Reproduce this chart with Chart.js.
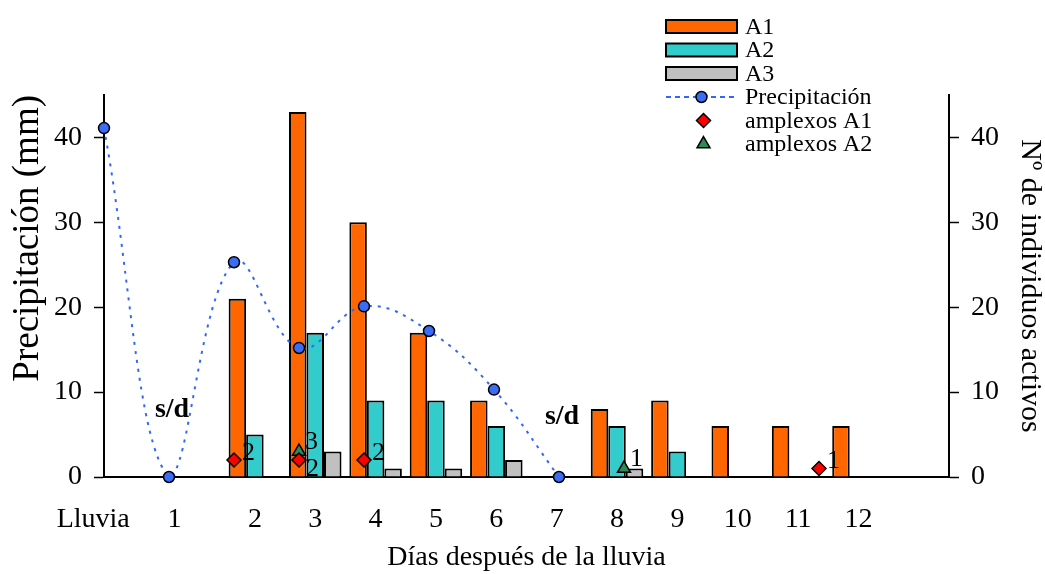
<!DOCTYPE html>
<html>
<head>
<meta charset="utf-8">
<script src="https://cdn.jsdelivr.net/npm/chart.js@4.4.1/dist/chart.umd.min.js"></script>
<style>
  html,body{margin:0;padding:0;background:#fff;}
  #wrap{width:1045px;height:574px;}
</style>
</head>
<body>
<div id="wrap"><canvas id="chart" width="1045" height="574"></canvas></div>
<script>
// ===== data =====
const dayLabels = ['Lluvia','1','2','3','4','5','6','7','8','9','10','11','12',''];
const a1Counts  = [null,null,21,43,30,17,9,null,8,9,6,6,6,null];
const a2Counts  = [null,null,5,17,9,9,6,null,6,3,null,null,null,null];
const a3Counts  = [null,null,null,3,1,1,2,null,1,null,null,null,null,null];

const rainDays = [0,1,2,3,4,5,6,7];
const rainMm   = [41.1,0,25.3,15.2,20.1,17.2,10.3,0];

const amplexA1Days = [2,3,4,11];
const amplexA1     = [2,2,2,1];
const amplexA2Days = [3,8];
const amplexA2     = [3,1];

const noDataDays = [1,7];
const noDataY    = [7.9,7.1];

const SERIF = "'Liberation Serif','Times New Roman',serif";
const pts = (xs, ys) => xs.map((x,i)=>({x:x, y:ys[i]}));

// ===== plugins =====
const dayRow = {
  id:'dayRow',
  afterDraw(chart){
    const ctx = chart.ctx, sc = chart.scales.xb;
    const nudge = [-41,-20];           // "Lluvia" and "1" sit left of their slots
    ctx.save();
    ctx.font = '28px ' + SERIF;
    ctx.fillStyle = '#000';
    ctx.textAlign = 'center';
    ctx.textBaseline = 'alphabetic';
    dayLabels.forEach((t,i)=>{
      if(!t) return;
      ctx.fillText(t, sc.getPixelForValue(i) + (nudge[i]||0), 527);
    });
    ctx.restore();
  }
};

const notes = {
  id:'notes',
  afterDatasetsDraw(chart){
    const ctx = chart.ctx, x = chart.scales.x, y = chart.scales.y;
    ctx.save();
    ctx.fillStyle = '#000';
    // s/d
    ctx.font = 'bold 28px ' + SERIF;
    ctx.textAlign = 'center'; ctx.textBaseline = 'middle';
    noDataDays.forEach((d,i)=> ctx.fillText('s/d', x.getPixelForValue(d)+3, y.getPixelForValue(noDataY[i])));
    // amplexos counts
    ctx.font = '26px ' + SERIF;
    ctx.textAlign = 'left';
    const m1 = chart.getDatasetMeta(0).data, m2 = chart.getDatasetMeta(1).data;
    m2.forEach((p,i)=> ctx.fillText(String(amplexA2[i]), p.x+6, p.y-9));
    m1.forEach((p,i)=>{
      const shared = amplexA2Days.includes(amplexA1Days[i]);
      ctx.fillText(String(amplexA1[i]), p.x+(shared?7:8), p.y+(shared?9:-7));
    });
    ctx.restore();
  }
};

const legendBox = {
  id:'legendBox',
  afterDraw(chart){
    const ctx = chart.ctx;
    const ds = chart.data.datasets;
    const order = [3,4,5,2,0,1];
    const x0 = 666, x1 = 737, tx = 745;
    ctx.save();
    ctx.font = '24px ' + SERIF;
    ctx.textBaseline = 'middle';
    order.forEach((k,row)=>{
      const d = ds[k], yy = 26.5 + row*23.5, cx = (x0+x1)/2;
      if(d.type === 'bar'){
        ctx.fillStyle = d.backgroundColor; ctx.strokeStyle = '#000'; ctx.lineWidth = 2;
        ctx.fillRect(x0, yy-6.5, x1-x0, 13); ctx.strokeRect(x0, yy-6.5, x1-x0, 13);
      } else if(d.type === 'line'){
        ctx.strokeStyle = d.borderColor; ctx.lineWidth = 2; ctx.setLineDash([5,4]);
        ctx.beginPath(); ctx.moveTo(x0, yy); ctx.lineTo(x1, yy); ctx.stroke(); ctx.setLineDash([]);
        ctx.fillStyle = d.pointBackgroundColor; ctx.strokeStyle = '#000'; ctx.lineWidth = 1.5;
        ctx.beginPath(); ctx.arc(cx, yy, d.pointRadius, 0, Math.PI*2); ctx.fill(); ctx.stroke();
      } else {
        ctx.fillStyle = d.backgroundColor; ctx.strokeStyle = '#000'; ctx.lineWidth = 1.5;
        Chart.helpers.drawPoint(ctx, {pointStyle:d.pointStyle, radius:d.pointRadius, borderWidth:1.5, rotation:0}, cx+2, yy);
      }
      ctx.fillStyle = '#000'; ctx.textAlign = 'left';
      ctx.fillText(d.label, tx, yy+1);
    });
    ctx.restore();
  }
};

// ===== chart =====
const axisY = (pos, title, titleFont, titleAlign, titlePad) => ({
  type:'linear', position:pos, min:0, max:45,
  ticks:{ stepSize:10, includeBounds:false, color:'#000', padding:12, font:{family:SERIF, size:28} },
  grid:{ drawOnChartArea:false, tickLength:10, tickColor:'#000', tickWidth:1.5 },
  border:{ color:'#000', width:2 },
  title:{ display:true, text:title, color:'#000', align:titleAlign, padding:titlePad, font:{family:SERIF, size:titleFont, lineHeight:1} },
  afterFit: s => { s.width = pos === 'left' ? 104 : 96; }
});

// every dataset shares the value axis 'y2' (same 0-45 range as 'y') so the
// grouped bars are not split between the two horizontal axes
const barSet = (label, data, color) => ({
  type:'bar', label:label, data:data, indexAxis:'x', xAxisID:'xb', yAxisID:'y2',
  backgroundColor:color, borderColor:'#000', borderWidth:2,
  categoryPercentage:0.87, barPercentage:1, order:2
});

new Chart(document.getElementById('chart'), {
  type:'line',
  data:{
    labels: dayLabels,
    datasets:[
      { type:'scatter', label:'amplexos A1', data:pts(amplexA1Days, amplexA1), indexAxis:'x', xAxisID:'x', yAxisID:'y2',
        pointStyle:'rectRot', pointRadius:7, backgroundColor:'#ff0000', borderColor:'#000', borderWidth:1.5, clip:10, order:0 },
      { type:'scatter', label:'amplexos A2', data:pts(amplexA2Days, amplexA2), indexAxis:'x', xAxisID:'x', yAxisID:'y2',
        pointStyle:'triangle', pointRadius:7.5, backgroundColor:'#2e8b57', borderColor:'#000', borderWidth:1.5, clip:10, order:0 },
      { type:'line', label:'Precipitación', data:pts(rainDays, rainMm), indexAxis:'x', xAxisID:'x', yAxisID:'y2',
        borderColor:'#3366ff', borderWidth:2, borderDash:[3,6], tension:0.4, fill:false,
        pointRadius:5.5, pointBackgroundColor:'#3b6cf5', pointBorderColor:'#000', pointBorderWidth:1.5, clip:10, order:1 },
      barSet('A1', a1Counts, '#ff6600'),
      barSet('A2', a2Counts, '#33cccc'),
      barSet('A3', a3Counts, '#c0c0c0')
    ]
  },
  options:{
    responsive:false, animation:false, devicePixelRatio:1,
    indexAxis:'y',
    layout:{ padding:{ top:95, left:0, right:0, bottom:0 } },
    plugins:{ legend:{display:false}, tooltip:{enabled:false} },
    scales:{
      xb:{ type:'category', position:'bottom', offset:true,
        grid:{ display:false }, ticks:{ display:false },
        border:{ color:'#000', width:2 },
        title:{ display:true, text:'Días después de la lluvia', color:'#000', padding:{bottom:0}, font:{family:SERIF, size:28, lineHeight:1.2} },
        afterFit: s => { s.height = 97; } },
      x:{ type:'linear', position:'bottom', display:false, offset:false, min:0, max:13 },
      y: axisY('left', 'Precipitación (mm)', 37, 'end', 10),
      y2: axisY('right', 'Nº de individuos activos', 30, 'center', 0)
    }
  },
  plugins:[dayRow, notes, legendBox]
});
</script>
</body>
</html>
